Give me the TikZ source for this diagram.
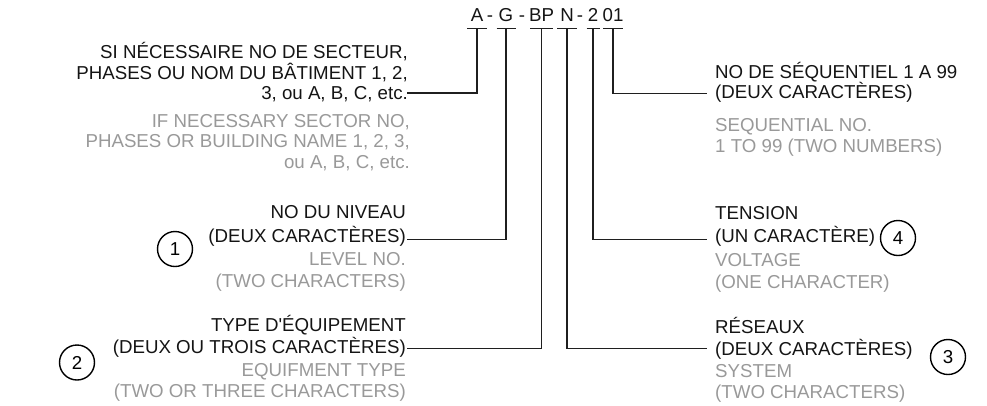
\documentclass[tikz,border=0pt]{standalone}
\usepackage{fontspec}
\setmainfont{Liberation Sans}
\newcommand{\rlines}[1]{\begin{tabular}[t]{@{}r@{}}#1\end{tabular}}
\newcommand{\llines}[1]{\begin{tabular}[t]{@{}l@{}}#1\end{tabular}}
\begin{document}
\begin{tikzpicture}[x=1pt,y=-1pt,
    lbl/.style={inner sep=0pt,font=\fontsize{18.7}{22}\selectfont},
    frtext/.style={lbl,text=black!92},
    entext/.style={lbl,text=black!40},
    lead/.style={line width=1.6pt,black!88},
    num/.style={lbl,draw,circle,line width=1.4pt,minimum size=35pt}]
  \useasboundingbox (0,0) rectangle (987,405);
  \foreach \n/\t/\x/\w in {a/A/477/10,g/G/506/9.5,bp/BP/541.5/11.5,n/N/567/10,s/2/593/6.5,q/01/613/10}{
    \node[frtext,anchor=base] (c\n) at (\x,21.7) {\t};
    \draw[lead] (\x-\w,28.3) -- (\x+\w,28.3);
    \coordinate (t\n) at (\x,28.3);
  }
  \foreach \x in {490,522,580}
    \node[frtext,anchor=base] (d\x) at (\x,21.7) {-};

  \node[frtext,anchor=base east] (fra) at (408,58) {\rlines{SI NÉCESSAIRE NO DE SECTEUR,\\[-1.5pt]
    PHASES OU NOM DU BÂTIMENT 1, 2,\\[-1.5pt] 3, ou A, B, C, etc.}};
  \node[entext,anchor=base east] (ena) at (410,127) {\rlines{IF NECESSARY SECTOR NO,\\[-1.5pt]
    PHASES OR BUILDING NAME 1, 2, 3,\\[-1.5pt] ou A, B, C, etc.}};
  \node[frtext,anchor=base east] (frg) at (406,218) {\rlines{NO DU NIVEAU\\[1.5pt] (DEUX CARACTÈRES)}};
  \node[entext,anchor=base east] (eng) at (406,265) {\rlines{LEVEL NO.\\ (TWO CHARACTERS)}};
  \node[frtext,anchor=base east] (frbp) at (406,331) {\rlines{TYPE D\textquotesingle ÉQUIPEMENT\\ (DEUX OU TROIS CARACTÈRES)}};
  \node[entext,anchor=base east] (enbp) at (406,376) {\rlines{EQUIFMENT TYPE\\[-1pt] (TWO OR THREE CHARACTERS)}};

  \node[frtext,anchor=base west] (frq) at (715,78) {\llines{NO DE SÉQUENTIEL 1 A 99\\[-2pt] (DEUX CARACTÈRES)}};
  \node[entext,anchor=base west] (enq) at (715,131.5) {\llines{SEQUENTIAL NO.\\[-1.5pt] 1 TO 99 (TWO NUMBERS)}};
  \node[frtext,anchor=base west] (frs) at (715,219) {\llines{TENSION\\[1pt] (UN CARACTÈRE)}};
  \node[entext,anchor=base west] (ens) at (715,266) {\llines{VOLTAGE\\ (ONE CHARACTER)}};
  \node[frtext,anchor=base west] (frn) at (715,333) {\llines{RÉSEAUX\\ (DEUX CARACTÈRES)}};
  \node[entext,anchor=base west] (enn) at (715,377) {\llines{SYSTEM\\[-1pt] (TWO CHARACTERS)}};

  \coordinate (ea) at (407,93);
  \coordinate (eg) at (407,239.3);
  \coordinate (ebp) at (407,348.3);
  \coordinate (eq) at (707,93.3);
  \coordinate (es) at (707,239.5);
  \coordinate (en) at (707,348.3);
  \foreach \n in {a,g,bp,q,s,n}
    \draw[lead] (t\n) |- (e\n);

  \node[num] (n1) at (175,249) {1};
  \node[num] (n2) at (77,362.5) {2};
  \node[num] (n3) at (948,357) {3};
  \node[num] (n4) at (898,238) {4};
\end{tikzpicture}
\end{document}
